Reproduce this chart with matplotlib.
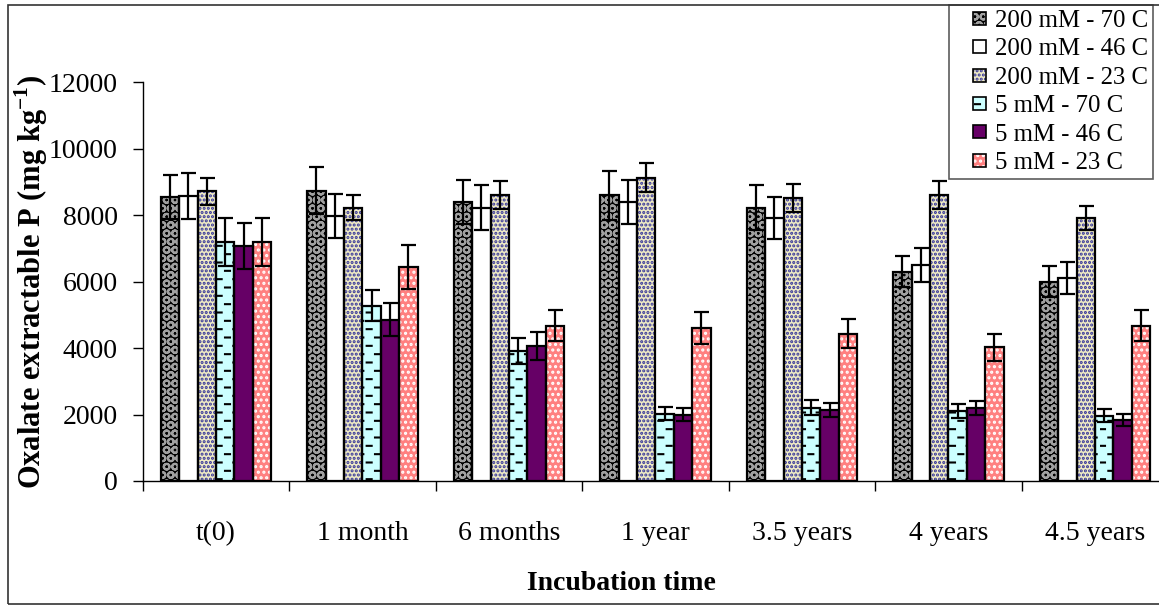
import numpy as np
import matplotlib
matplotlib.use("Agg")
import matplotlib.pyplot as plt
import matplotlib.hatch as mhatch
from matplotlib.path import Path
from matplotlib.patches import Rectangle
from matplotlib.legend_handler import HandlerBase
from matplotlib.container import BarContainer

# 데이터
times = ["t(0)", "1 month", "6 months", "1 year", "3.5 years", "4 years", "4.5 years"]
series_names = ["200 mM - 70 C", "200 mM - 46 C", "200 mM - 23 C",
                "5 mM - 70 C", "5 mM - 46 C", "5 mM - 23 C"]

v200_70 = [8550, 8740, 8410, 8600, 8230, 6300, 6000]
e200_70 = [660, 700, 660, 730, 670, 470, 470]
v200_46 = [8580, 7980, 8230, 8410, 7920, 6490, 6120]
e200_46 = [700, 650, 670, 660, 630, 510, 480]
v200_23 = [8720, 8230, 8600, 9130, 8530, 8600, 7920]
e200_23 = [410, 370, 420, 440, 420, 420, 370]
v5_70 = [7200, 5280, 3900, 2030, 2210, 2110, 1970]
e5_70 = [720, 470, 390, 200, 230, 200, 200]
v5_46 = [7080, 4850, 4070, 2000, 2140, 2210, 1830]
e5_46 = [700, 500, 420, 200, 200, 210, 180]
v5_23 = [7200, 6430, 4680, 4600, 4440, 4020, 4680]
e5_23 = [720, 660, 480, 480, 450, 420, 480]

values = [v200_70, v200_46, v200_23, v5_70, v5_46, v5_23]
errors = [e200_70, e200_46, e200_23, e5_70, e5_46, e5_23]


# 엑셀 스타일 짧은 가로 점선 해치 ('_' 문자)
class DashHatch(mhatch.HatchPatternBase):
    def __init__(self, hatch, density):
        self.num_rows = int(hatch.count("_") * density)
        self.num_vertices = self.num_rows * 6 * 2

    def set_vertices_and_codes(self, vertices, codes):
        k = 0
        for r in range(self.num_rows):
            y = (r + 0.5) / self.num_rows
            shift = (r % 2) * 0.5 / 6
            for c in range(6):
                x0 = c / 6 + shift
                vertices[k] = (x0, y)
                vertices[k + 1] = (x0 + 0.05, y)
                codes[k] = Path.MOVETO
                codes[k + 1] = Path.LINETO
                k += 2


mhatch._hatch_types.append(DashHatch)

# 스타일: (면 색, 해치 색, 해치)
styles = [
    ("black", "#A0A0A0", "OO"),
    ("white", "white", ""),
    ("#EFEBC5", "#333399", "...."),
    ("#CCFFFF", "black", "__"),
    ("#660066", "#660066", ""),
    ("#FF8080", "white", "..."),
]

plt.rcParams["font.family"] = ["Liberation Serif", "DejaVu Serif"]
plt.rcParams["mathtext.fontset"] = "custom"
plt.rcParams["mathtext.rm"] = "Liberation Serif"
plt.rcParams["mathtext.bf"] = "Liberation Serif:bold"
plt.rcParams["hatch.linewidth"] = 1.5

fig = plt.figure(figsize=(11.59, 6.09), dpi=100)
ax = fig.add_axes([0.1231, 0.2102, 0.8848, 0.6545])

n_groups = len(times)
x = np.arange(n_groups)
w = 0.1256
offsets = (np.arange(len(values)) - 2.5) * w

containers = []
for j, (vals, errs) in enumerate(zip(values, errors)):
    face, hcol, hatch = styles[j]
    xpos = x + 0.5 + offsets[j]
    bc = ax.bar(xpos, vals, width=w, color=face, edgecolor=hcol, linewidth=0,
                hatch=hatch, zorder=2)
    ax.bar(xpos, vals, width=w, fill=False, edgecolor="black", linewidth=1.6, zorder=3)
    ax.errorbar(xpos, vals, yerr=errs, fmt="none", ecolor="black", elinewidth=1.6,
                capsize=5.4, capthick=1.6, zorder=4)
    containers.append(bc)

ax.set_xlim(0, n_groups)
ax.set_ylim(0, 12000)
ax.set_yticks(np.arange(0, 12001, 2000))
ax.set_xticks(np.arange(n_groups + 1))
ax.set_xticklabels([])
ax.set_xticks(x + 0.5, minor=True)
ax.set_xticklabels(times, minor=True)
ax.tick_params(axis="x", which="major", direction="out", length=7, width=1)
ax.tick_params(axis="x", which="minor", length=0, pad=29, labelsize=20)
ax.tick_params(axis="y", direction="out", length=7, width=1, pad=11, labelsize=20)
for s in ["top", "right"]:
    ax.spines[s].set_visible(False)
for s in ["left", "bottom"]:
    ax.spines[s].set_linewidth(1)

ax.set_ylabel(r"Oxalate extractable P (mg kg$^{\mathbf{-1}}$)", fontsize=22,
              fontweight="bold", labelpad=-1)
ax.set_xlabel("Incubation time", fontsize=20, fontweight="bold", va="center")
ax.xaxis.set_label_coords(0.4664, -0.256)


# 범례 핸들: 해치 사각형 + 검은 테두리
class SquareHandler(HandlerBase):
    def create_artists(self, legend, orig_handle, xdescent, ydescent, width, height,
                       fontsize, trans):
        p = orig_handle.patches[0]
        size = 0.53 * fontsize
        x0 = -xdescent + width - size
        y0 = -ydescent + (height - size) / 2
        r1 = Rectangle((x0, y0), size, size, facecolor=p.get_facecolor(),
                       edgecolor=p.get_edgecolor(), linewidth=0, hatch=p.get_hatch(),
                       transform=trans)
        r2 = Rectangle((x0, y0), size, size, fill=False, edgecolor="black",
                       linewidth=1.2, transform=trans)
        return [r1, r2]


leg = ax.legend(containers, series_names, handler_map={BarContainer: SquareHandler()},
                loc="upper right", bbox_to_anchor=(1153 / 1159, 1 - 5 / 609),
                bbox_transform=fig.transFigure, borderaxespad=0, fontsize=17.8,
                handlelength=1.3, handleheight=0.6, handletextpad=0.35,
                labelspacing=0.26, borderpad=0.2, frameon=True, fancybox=False)
leg.get_frame().set_edgecolor("#333333")
leg.get_frame().set_linewidth(1.2)

# 차트 바깥 테두리
fig.patches.append(Rectangle((8 / 1159, 1 - 604 / 609), 1.1, 599 / 609,
                             transform=fig.transFigure, fill=False,
                             edgecolor="#333333", linewidth=1.2, zorder=0))

plt.savefig("out.png", dpi=100)
plt.close()
print("File saved.")
